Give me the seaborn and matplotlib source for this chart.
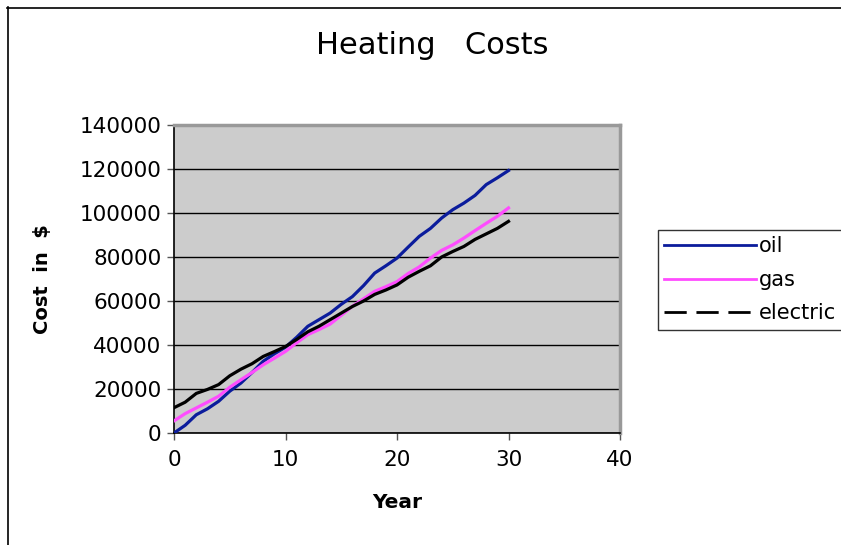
import matplotlib
matplotlib.use("Agg")
import matplotlib.pyplot as plt
from matplotlib.lines import Line2D
import seaborn as sns
import pandas as pd

years = list(range(31))
oil = [0, 3500, 8300, 11000, 14400, 19000, 22700, 27500, 32600, 36000, 39000,
       43500, 48500, 51500, 54500, 58500, 62000, 67000, 72700, 76000, 79500,
       84500, 89400, 93000, 97700, 101500, 104500, 108000, 112900, 116000, 119300]
gas = [5500, 8800, 11400, 14000, 16700, 20800, 24200, 27500, 31000, 34000, 37100,
       41000, 44700, 47000, 49500, 53500, 57600, 61000, 64400, 66500, 68800,
       72500, 75500, 79500, 83000, 85500, 88600, 92000, 95300, 98500, 102300]
electric = [11500, 14000, 18000, 19800, 22000, 26000, 29000, 31500, 34800, 37000, 39300,
            42500, 46000, 48500, 51500, 54500, 57500, 60000, 63000, 65000, 67300,
            70800, 73500, 76000, 80000, 82500, 84800, 88000, 90500, 93000, 96200]
series_names = ["oil", "gas", "electric"]
x_ticks = [0, 10, 20, 30, 40]
y_ticks = [0, 20000, 40000, 60000, 80000, 100000, 120000, 140000]

colors = {"oil": "#0B1C9C", "gas": "#FF4CFF", "electric": "#000000"}

df = pd.concat([
    pd.DataFrame({"Year": years, "Cost": vals, "Fuel": name})
    for name, vals in zip(series_names, [oil, gas, electric])
], ignore_index=True)

plt.rcParams["font.family"] = ["DejaVu Sans"]
fig = plt.figure(figsize=(8.41, 5.45), dpi=100)
fig.patch.set_facecolor("white")
ax = fig.add_axes([174/841, 1-433/545, (620-174)/841, (433-125)/545])
ax.set_facecolor("#CCCCCC")

sns.lineplot(data=df, x="Year", y="Cost", hue="Fuel", palette=colors,
             linewidth=2.3, legend=False, ax=ax, zorder=3)

ax.set_xlim(0, 40)
ax.set_ylim(0, 140000)
ax.set_xticks(x_ticks)
ax.set_yticks(y_ticks)
ax.set_xticklabels([str(t) for t in x_ticks], fontsize=15.5)
ax.set_yticklabels([str(t) for t in y_ticks], fontsize=15.5)
ax.tick_params(axis="both", direction="out", length=5, width=1, color="#555555", pad=4)
ax.tick_params(axis="x", pad=7)
ax.yaxis.grid(True, color="black", linewidth=1)
ax.xaxis.grid(False)
ax.set_axisbelow(True)
for side in ["left", "bottom"]:
    ax.spines[side].set_color("black")
    ax.spines[side].set_linewidth(1.2)
for side in ["top", "right"]:
    ax.spines[side].set_color("#999999")
    ax.spines[side].set_linewidth(2.5)

ax.set_xlabel("Year", fontsize=14.5, fontweight="bold", labelpad=17)
ax.set_ylabel("Cost  in  $", fontsize=14, fontweight="bold", labelpad=20)
fig.text(432/841, 1-45/545, "Heating   Costs", fontsize=22, ha="center", va="center")

handles = [
    Line2D([], [], color=colors["oil"], linewidth=2),
    Line2D([], [], color=colors["gas"], linewidth=2),
    Line2D([], [], color="black", linewidth=2, linestyle=(0, (8, 3.5))),
]
leg = fig.legend(handles, series_names, loc="upper left",
                 bbox_to_anchor=(658/841, 1-230/545), fontsize=15,
                 frameon=True, fancybox=False, edgecolor="black",
                 handlelength=4.4, handletextpad=0.15, labelspacing=0.65,
                 borderpad=0.3, borderaxespad=0)
leg.get_frame().set_linewidth(1)

# figure border (top and left)
fig.add_artist(Line2D([7/841, 1], [1-7.5/545, 1-7.5/545], transform=fig.transFigure,
                      color="black", linewidth=1.2))
fig.add_artist(Line2D([7.5/841, 7.5/841], [0, 1-7/545], transform=fig.transFigure,
                      color="black", linewidth=1.2))

fig.savefig("out.png", dpi=100)
